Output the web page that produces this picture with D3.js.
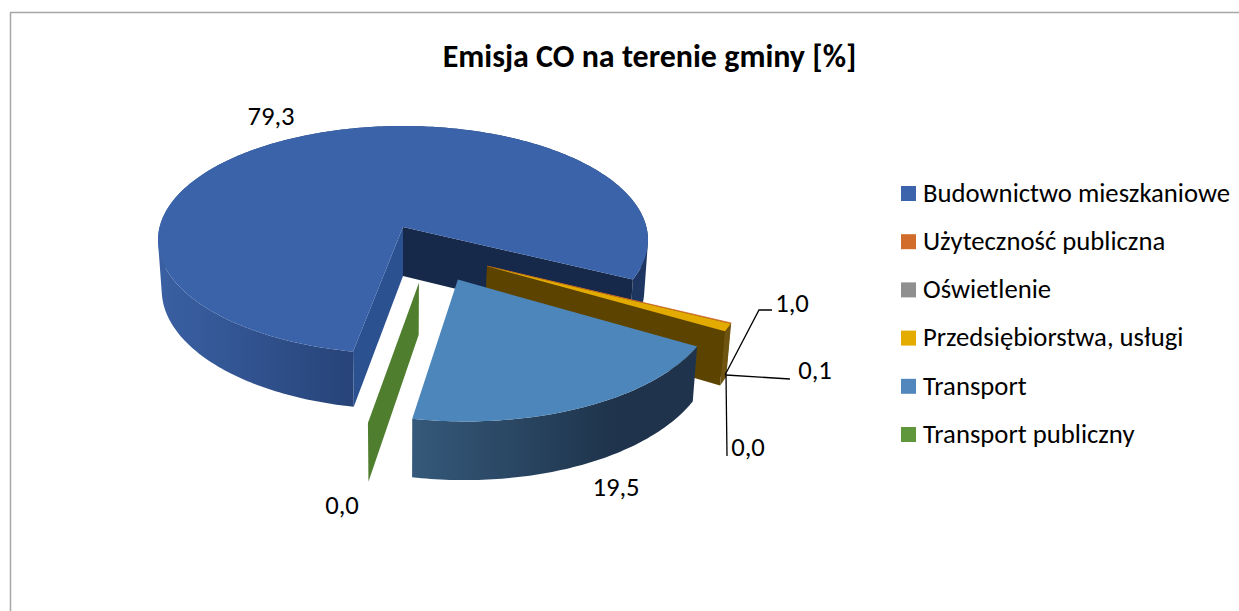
<!DOCTYPE html>
<html>
<head>
<meta charset="utf-8">
<script src="https://cdnjs.cloudflare.com/ajax/libs/d3/7.8.5/d3.min.js"></script>
<style>
    html, body { margin: 0; padding: 0; background: #fff; }
    svg { display: block; }
    text { font-family: Carlito, Lato, sans-serif; fill: #000; }
</style>
</head>
<body>
<svg id="chart" width="1239" height="611"></svg>
<script>
const chartTitle = 'Emisja CO na terenie gminy [%]';
const categories = ['Budownictwo mieszkaniowe', 'Użyteczność publiczna', 'Oświetlenie', 'Przedsiębiorstwa, usługi', 'Transport', 'Transport publiczny'];
const values = [79.3, 0.1, 0.0, 1.0, 19.5, 0.0];

const topColors = ['#3b63a9', '#d2692a', '#8f8f8f', '#e3aa00', '#4c86ba', '#507e2f'];
const legendColors = ['#3b64ad', '#d26c2b', '#8f8f8f', '#e4ab00', '#5287bd', '#60973c'];
const cutColors = ['#17294a', '#5c4400', '#5c4400', '#5c4400', '#20364e', '#507e2f'];
const startCutColors = ['#2c5190', '#5c4400', '#5c4400', '#5c4400', '#20364e', '#507e2f'];
const wallLeft = ['#3a60a3', '#6e5410', '#6e5410', '#6e5410', '#35597a', '#507e2f'];
const wallRight = ['#1d3560', '#6e5410', '#6e5410', '#6e5410', '#1f344c', '#507e2f'];

// explosion of each slice in disc units
const explode = [[0, 0], [0.332, 0.335], [0.332, 0.335], [0.332, 0.335], [0.214, 0.444], [0.062, 0.47]];

// label centre and leader line for each slice
const labelPos = [[271, 117], [815, 371], [748, 448], [792, 304], [616, 488], [342, 506]];
const leaders = [null, [[726, 375], [790, 379]], [[726, 375], [727, 456]], [[725, 375], [759, 310], [772, 310]], null, null];

const svg = d3.select('#chart');

const cx = 403, apexY = 227;
const radiusX = 243.4, radiusY = 112.5;
const persp = 0.114; // front of the disc is bigger than the back
const depth = 49;
const converge = 0.985; // bottom of the walls narrows a little

function project(x, y, isBottom) {
    let den = 1 - persp * y;
    let sx = radiusX * x / den;
    let sy = apexY + radiusY * y / den;
    if (isBottom) {
        sx *= converge;
        sy += depth / den;
    }
    return [cx + sx, sy];
}

function discPoint(angle, off) {
    return [Math.sin(angle) + off[0], -Math.cos(angle) + off[1]];
}

// frame
svg.append('path')
    .attr('d', 'M10.5,611V12.5H1239')
    .attr('fill', 'none')
    .attr('stroke', '#a6a6a6')
    .attr('stroke-width', 1.5);

svg.append('text')
    .attr('x', 649.5)
    .attr('y', 67)
    .attr('text-anchor', 'middle')
    .attr('font-size', 32)
    .attr('font-weight', 'bold')
    .text(chartTitle);

const pie = d3.pie()
    .sort(null)
    .startAngle(190.5 * Math.PI / 180)
    .endAngle(550.5 * Math.PI / 180);
const arcs = pie(values);

const defs = svg.append('defs');
const line = d3.line();

function arcSamples(d, off, isBottom) {
    let n = Math.max(2, Math.ceil((d.endAngle - d.startAngle) * 60));
    return d3.range(n + 1).map(function(i) {
        let a = d.startAngle + (d.endAngle - d.startAngle) * i / n;
        let p = discPoint(a, off);
        return project(p[0], p[1], isBottom);
    });
}

function cross(q) {
    return (q[1][0] - q[0][0]) * (q[2][1] - q[1][1]) - (q[1][1] - q[0][1]) * (q[2][0] - q[1][0]);
}

function cutQuad(angle, off) {
    let p = discPoint(angle, off);
    return [project(off[0], off[1], false), project(p[0], p[1], false), project(p[0], p[1], true), project(off[0], off[1], true)];
}

// one subpath per wall strip, all wound the same way so the fill is a clean union
function wallPath(top, bottom) {
    let d = '';
    for (let i = 0; i < top.length - 1; i++) {
        let q = [top[i], top[i+1], bottom[i+1], bottom[i]];
        if (cross(q) < 0) q.reverse();
        d += line(q) + 'Z';
    }
    return d;
}

arcs.forEach(function(d, i) {
    let off = explode[i];
    let g = svg.append('g').attr('class', 'slice');

    let top = arcSamples(d, off, false);
    let bottom = arcSamples(d, off, true);

    // outer wall, shaded left to right
    let xs = top.map(function(p) { return p[0]; });
    let gradId = 'wall' + i;
    let grad = defs.append('linearGradient')
        .attr('id', gradId)
        .attr('gradientUnits', 'userSpaceOnUse')
        .attr('x1', d3.min(xs))
        .attr('x2', d3.max(xs))
        .attr('y1', 0)
        .attr('y2', 0);
    if (i == 0) {
        grad.append('stop').attr('offset', 0).attr('stop-color', wallLeft[i]);
        grad.append('stop').attr('offset', 0.46).attr('stop-color', '#243f72');
        grad.append('stop').attr('offset', 1).attr('stop-color', wallRight[i]);
    } else {
        grad.append('stop').attr('offset', 0).attr('stop-color', wallLeft[i]);
        grad.append('stop').attr('offset', 0.7).attr('stop-color', wallRight[i]);
    }
    g.append('path')
        .attr('d', wallPath(top, bottom))
        .attr('fill', 'url(#' + gradId + ')');

    // cut faces, only those turned to the viewer
    let startQuad = cutQuad(d.startAngle, off);
    let endQuad = cutQuad(d.endAngle, off);
    if (cross(startQuad) < 0) {
        g.append('path').attr('d', line(startQuad) + 'Z').attr('fill', startCutColors[i]);
    }
    if (cross(endQuad) > 0) {
        g.append('path').attr('d', line(endQuad) + 'Z').attr('fill', cutColors[i]);
    }

    // top surface, the hair thin slice gets a stroke so it stays visible
    let apex = project(off[0], off[1], false);
    let surface = g.append('path')
        .attr('d', line([apex].concat(top)) + 'Z')
        .attr('fill', topColors[i]);
    if (d.value > 0 && d.value < 0.5) {
        surface.attr('stroke', topColors[i]).attr('stroke-width', 0.8);
    }
});

// leader lines
svg.append('g')
    .selectAll('path')
    .data(leaders.filter(function(l) { return l; }))
    .enter()
        .append('path')
            .attr('d', function(l) { return line(l); })
            .attr('fill', 'none')
            .attr('stroke', '#000')
            .attr('stroke-width', 1.3);

// data labels
svg.append('g')
    .selectAll('text')
    .data(values)
    .enter()
        .append('text')
            .attr('x', function(d, i) { return labelPos[i][0]; })
            .attr('y', function(d, i) { return labelPos[i][1]; })
            .attr('dy', '0.31em')
            .attr('text-anchor', 'middle')
            .attr('font-size', 26.7)
            .text(function(d) { return d.toFixed(1).replace('.', ','); });

// legend
const legendY = d3.scalePoint()
    .domain(categories)
    .range([193.5, 434.5]);

const legend = svg.append('g')
    .selectAll('g')
    .data(categories)
    .enter()
        .append('g')
            .attr('transform', function(d) { return 'translate(901,' + legendY(d) + ')'; });

legend.append('rect')
    .attr('y', -7.5)
    .attr('width', 15)
    .attr('height', 15)
    .attr('fill', function(d, i) { return legendColors[i]; });

legend.append('text')
    .attr('x', 22)
    .attr('dy', '0.31em')
    .attr('font-size', 26.7)
    .text(function(d) { return d; });
</script>
</body>
</html>
